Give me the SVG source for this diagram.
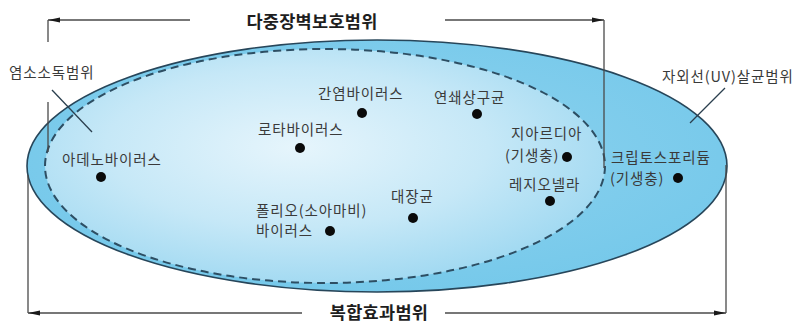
<svg xmlns="http://www.w3.org/2000/svg" width="795" height="326" viewBox="0 0 795 326">
  <style>
    .lbl { font-family: "Noto Sans CJK KR", "Noto Sans", sans-serif; font-size: 14.5px; letter-spacing: 0.9px; fill: #3a3a3a; }
    .title { font-family: "Noto Sans CJK KR", "Noto Sans", sans-serif; font-size: 17.5px; letter-spacing: 0.3px; font-weight: bold; fill: #1e1e1e; }
    .dot { fill: #0a0a0a; }
    .ln { stroke: #4a4a4a; stroke-width: 1.3; fill: none; }
    .lead { stroke: #2b3f4e; stroke-width: 1.3; fill: none; }
  </style>
  <defs>
    <radialGradient id="innerGrad" cx="0.45" cy="0.42" r="0.62">
      <stop offset="0" stop-color="#e6f5fc"/>
      <stop offset="0.55" stop-color="#c6e8f7"/>
      <stop offset="1" stop-color="#9ed8f1"/>
    </radialGradient>
    <radialGradient id="outerGrad" cx="0.5" cy="0.45" r="0.6">
      <stop offset="0" stop-color="#8fd3ef"/>
      <stop offset="1" stop-color="#74c8ea"/>
    </radialGradient>
    <marker id="ah" viewBox="0 0 12 6" refX="12" refY="3" markerWidth="12" markerHeight="6" markerUnits="userSpaceOnUse" orient="auto">
      <path d="M0,0.6 L12,3 L0,5.4 Z" fill="#1a1a1a"/>
    </marker>
  </defs>

  <g id="uv-range">
    <ellipse cx="377" cy="166" rx="350" ry="126" fill="url(#outerGrad)" stroke="#27465a" stroke-width="1.6"/>
  </g>
  <g id="chlorine-range">
    <ellipse cx="325" cy="166" rx="280" ry="117" fill="url(#innerGrad)" stroke="#2d4e63" stroke-width="2" stroke-dasharray="8 5"/>
  </g>

  <g id="connectors">
    <!-- top bracket: 다중장벽보호범위 -->
    <line class="ln" x1="190" y1="20" x2="48" y2="20" marker-end="url(#ah)"/>
    <line class="ln" x1="48" y1="20" x2="48" y2="42"/>
    <line class="ln" x1="48" y1="102" x2="48" y2="152"/>
    <line class="ln" x1="445" y1="20" x2="604" y2="20" marker-end="url(#ah)"/>
    <line class="ln" x1="604" y1="20" x2="604" y2="168"/>
    <!-- bottom bracket: 복합효과범위 -->
    <line class="ln" x1="302" y1="313" x2="28" y2="313" marker-end="url(#ah)"/>
    <line class="ln" x1="28" y1="175" x2="28" y2="313"/>
    <line class="ln" x1="445" y1="313" x2="726" y2="313" marker-end="url(#ah)"/>
    <line class="ln" x1="726" y1="165" x2="726" y2="313"/>
    <!-- leader lines -->
    <line class="lead" x1="52" y1="90" x2="92" y2="132"/>
    <line class="lead" x1="725" y1="88" x2="690" y2="123"/>
  </g>

  <g id="title-multibarrier"><text class="title" x="312" y="28" text-anchor="middle">다중장벽보호범위</text></g>
  <g id="title-combined"><text class="title" x="379" y="319" text-anchor="middle">복합효과범위</text></g>
  <g id="label-chlorine"><text class="lbl" x="9" y="78">염소소독범위</text></g>
  <g id="label-uv"><text class="lbl" x="662" y="82" letter-spacing="0.2">자외선(UV)살균범위</text></g>

  <g id="node-hepatitis">
    <text class="lbl" x="318" y="99">간염바이러스</text>
    <circle class="dot" cx="362" cy="113" r="5"/>
  </g>
  <g id="node-strepto">
    <text class="lbl" x="434" y="103">연쇄상구균</text>
    <circle class="dot" cx="477" cy="114" r="5"/>
  </g>
  <g id="node-rota">
    <text class="lbl" x="258" y="135">로타바이러스</text>
    <circle class="dot" cx="300" cy="148" r="5"/>
  </g>
  <g id="node-adeno">
    <text class="lbl" x="62" y="165">아데노바이러스</text>
    <circle class="dot" cx="101" cy="177" r="5"/>
  </g>
  <g id="node-giardia">
    <text class="lbl" x="511" y="139">지아르디아</text>
    <text class="lbl" x="505" y="161" letter-spacing="0.5">(기생충)</text>
    <circle class="dot" cx="567" cy="157" r="5"/>
  </g>
  <g id="node-legionella">
    <text class="lbl" x="509" y="190">레지오넬라</text>
    <circle class="dot" cx="550" cy="201" r="5"/>
  </g>
  <g id="node-crypto">
    <text class="lbl" x="611" y="163">크립토스포리듐</text>
    <text class="lbl" x="610" y="184" letter-spacing="0.5">(기생충)</text>
    <circle class="dot" cx="678" cy="178" r="5"/>
  </g>
  <g id="node-ecoli">
    <text class="lbl" x="391" y="202">대장균</text>
    <circle class="dot" cx="413" cy="218" r="5"/>
  </g>
  <g id="node-polio">
    <text class="lbl" x="256" y="216" letter-spacing="0.3">폴리오(소아마비)</text>
    <text class="lbl" x="256" y="236">바이러스</text>
    <circle class="dot" cx="330" cy="231" r="5"/>
  </g>
</svg>
